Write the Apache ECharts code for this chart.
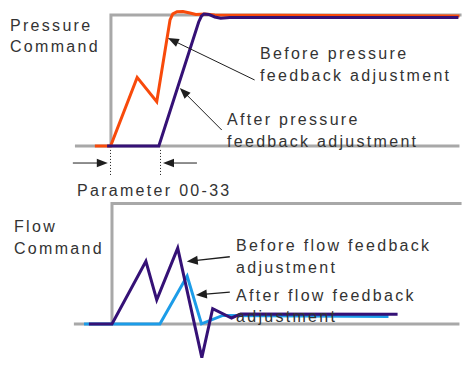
<!DOCTYPE html>
<html>
<head>
<meta charset="utf-8">
<script src="https://cdn.jsdelivr.net/npm/echarts@6/dist/echarts.min.js"></script>
<style>
  html, body { margin: 0; padding: 0; background: #fff; }
  #chart { width: 464px; height: 372px; }
  #chart text { letter-spacing: 2.3px; }
</style>
</head>
<body>
<div id="chart"></div>
<script>
// ---- values (time in arbitrary units, command amplitude normalised to 1) ----
const pressureBaseline = [[-10.3, 0], [99.7, 0]];
const pressureCommand  = [[0, 0], [0, 1], [100.3, 1]];
const pressureBefore = [[-4.6, 0], [-0.1, 0], [7.5, 0.524], [13.1, 0.338], [16.9, 0.962],
  [17.7, 1.008], [18.9, 1.025], [20.6, 1.027], [22.6, 1.015], [24.3, 1.004],
  [26.9, 1.008], [29.7, 1.0], [99.7, 0.992]];
const pressureAfter = [[-1.1, 0], [13.7, 0], [25.1, 0.947], [25.9, 0.992], [26.6, 1.008],
  [28, 1.004], [29.7, 0.985], [31.4, 0.975], [34, 0.981], [99.4, 0.981]];
const delayStart = -0.3;   // command step
const delayEnd = 14;       // response start (Parameter 00-33)

const flowBaseline = [[-10.6, 0], [99.7, 0]];
const flowCommand  = [[0.3, 0], [0.3, 1], [100.3, 1]];
const flowBefore = [[-6.3, 0], [0.3, 0], [10, 0.52], [13.1, 0.2], [19.1, 0.63], [26, -0.28],
  [29.1, 0.126], [34.5, 0.049], [37.1, 0.083], [82, 0.081]];
const flowAfter = [[-7.7, 0], [14, 0], [21.8, 0.398], [25.9, 0], [32, 0.07], [79.4, 0.062]];

// callout arrows: [tailX, tailY, tipX, tipY]
const pressureArrows = [
  [41.1, 0.504, 16.3, 0.824],
  [31.7, 0.122, 19.7, 0.443],
  [-10.9, -0.13, -0.9, -0.13],
  [24.6, -0.13, 14.9, -0.13]
];
const flowArrows = [
  [34, 0.558, 21.7, 0.519],
  [34, 0.264, 24.3, 0.24]
];

// ---- texts ----
const pressureTitle = ['Pressure', 'Command'];
const flowTitle = ['Flow', 'Command'];
const pressureNotes = ['Before pressure', 'feedback adjustment', 'After pressure', 'feedback adjustment'];
const flowNotes = ['Before flow feedback', 'adjustment', 'After flow feedback', 'adjustment'];
const delayLabel = 'Parameter 00-33';

// ---- styling ----
const GRAY = '#a8a8a8', ORANGE = '#f84a0b', PURPLE = '#351176', BLUE = '#1c9ce8', INK = '#1e1e1e';
const TEXT = '#333333';
const FONT = '"Liberation Sans", Arial, sans-serif';

function lineSeries(data, color, grid, z, extra) {
  return Object.assign({
    type: 'line', data: data, xAxisIndex: grid, yAxisIndex: grid,
    showSymbol: false, symbol: 'none', clip: false, silent: true, z: z,
    lineStyle: { color: color, width: 3, join: 'miter' }
  }, extra || {});
}

// straight shaft with a filled head ending exactly at the tip
function arrowSeries(data, grid, shaftWidth, headLen, headHalf) {
  return {
    type: 'custom', data: data, xAxisIndex: grid, yAxisIndex: grid,
    encode: { x: [0, 2], y: [1, 3] }, silent: true, z: 5, clip: false,
    renderItem: function (params, api) {
      const a = api.coord([api.value(0), api.value(1)]);
      const b = api.coord([api.value(2), api.value(3)]);
      const dx = b[0] - a[0], dy = b[1] - a[1];
      const len = Math.sqrt(dx * dx + dy * dy);
      const ux = dx / len, uy = dy / len;
      const bx = b[0] - ux * headLen, by = b[1] - uy * headLen;
      return {
        type: 'group',
        children: [
          { type: 'line', shape: { x1: a[0], y1: a[1], x2: bx + ux, y2: by + uy },
            style: { stroke: INK, lineWidth: shaftWidth } },
          { type: 'polygon', shape: { points: [
              [b[0], b[1]],
              [bx - uy * headHalf, by + ux * headHalf],
              [bx + uy * headHalf, by - ux * headHalf]
            ] }, style: { fill: INK } }
        ]
      };
    }
  };
}

const chart = echarts.init(document.getElementById('chart'), null, { renderer: 'svg' });

const xAx = (g) => ({ type: 'value', gridIndex: g, min: -12, max: 101, show: false });
const option = {
  animation: false,
  backgroundColor: '#ffffff',
  grid: [
    { left: 69, width: 395.5, top: 1.9, height: 186.02 },
    { left: 69, width: 395.5, top: 197.55, height: 187.05 }
  ],
  xAxis: [xAx(0), xAx(1)],
  yAxis: [
    { type: 'value', gridIndex: 0, min: -0.32, max: 1.1, show: false },
    { type: 'value', gridIndex: 1, min: -0.4, max: 1.05, show: false }
  ],
  series: [
    lineSeries(pressureBaseline, GRAY, 0, 1, {
      markLine: {
        silent: true, animation: false, symbol: ['none', 'none'],
        lineStyle: { color: INK, width: 1, type: [1, 2] },
        label: { show: false },
        data: [
          [{ coord: [delayStart, -0.03] }, { coord: [delayStart, -0.23] }],
          [{ coord: [delayEnd + 0.2, -0.03] }, { coord: [delayEnd + 0.2, -0.23] }]
        ]
      }
    }),
    lineSeries(pressureCommand, GRAY, 0, 1),
    lineSeries(pressureBefore, ORANGE, 0, 2),
    lineSeries(pressureAfter, PURPLE, 0, 3),
    arrowSeries(pressureArrows, 0, 1, 11, 4.2),

    lineSeries(flowBaseline, GRAY, 1, 1),
    lineSeries(flowCommand, GRAY, 1, 1),
    lineSeries(flowAfter, BLUE, 1, 2),
    lineSeries(flowBefore, PURPLE, 1, 3),
    arrowSeries(flowArrows, 1, 1.3, 11, 4.5)
  ],
  graphic: []
};

// text placement: [text, left, vertical middle]
const textLayout = [
  [pressureTitle[0], 10, 25], [pressureTitle[1], 10, 46.5],
  [pressureNotes[0], 260, 53.5], [pressureNotes[1], 260, 75],
  [pressureNotes[2], 227, 119.5], [pressureNotes[3], 227, 141],
  [delayLabel, 77, 190],
  [flowTitle[0], 14, 226.5], [flowTitle[1], 14, 248],
  [flowNotes[0], 236, 245.5], [flowNotes[1], 236, 267.5],
  [flowNotes[2], 236, 295], [flowNotes[3], 236, 316]
];
option.graphic = textLayout.map(t => ({
  type: 'text', x: t[1], y: t[2], silent: true, z: 10,
  style: { text: t[0], fill: TEXT, font: '16px ' + FONT, verticalAlign: 'middle', align: 'left' }
}));

chart.setOption(option);
</script>
</body>
</html>
